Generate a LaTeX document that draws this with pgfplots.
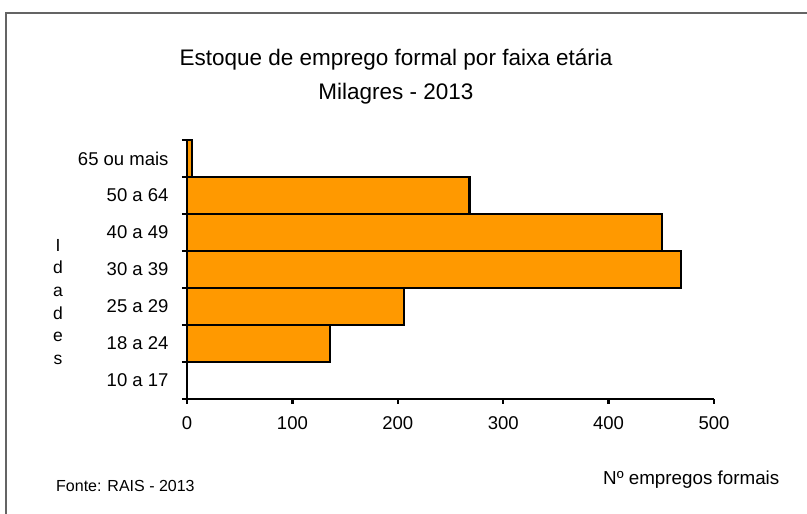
\documentclass[border=0pt]{standalone}
\usepackage{fontspec}
\setmainfont{Liberation Sans}
\usepackage{pgfplots}
\pgfplotsset{compat=1.18}
\definecolor{barorange}{RGB}{255,153,0}
\definecolor{framegray}{RGB}{100,100,100}
\begin{document}
\begin{tikzpicture}[x=1pt,y=1pt]
\useasboundingbox (0,0) rectangle (807,514);
% chart frame (top and left edges visible)
\draw[framegray,line width=1.5pt] (6,0) -- (6,501) -- (807,501);
% title
\node[anchor=base,font=\fontsize{22.5}{27}\selectfont] at (396,448) {Estoque de emprego formal por faixa etária};
\node[anchor=base,font=\fontsize{22.5}{27}\selectfont] at (396,414) {Milagres - 2013};
% vertical y label
\foreach \ch/\yy in {I/262.3,d/240.7,a/217.3,d/194,e/172.3,s/149}
  \node[anchor=base,font=\fontsize{17.5}{17.5}\selectfont] at (58,\yy) {\ch};
\node[anchor=base west,inner sep=0pt,font=\fontsize{16}{16}\selectfont] at (56,22.3) {Fonte: RAIS - 2013};
\node[anchor=base west,inner sep=0pt,font=\fontsize{18.8}{19}\selectfont] at (603,29) {Nº empregos formais};
\begin{axis}[
  at={(187pt,115pt)}, anchor=south west,
  scale only axis, width=527pt, height=259pt,
  xbar, bar width=1,
  xmin=0, xmax=500, ymin=-0.5, ymax=6.5,
  axis lines=left, axis line style={-, line width=2.5pt},
  xtick={0,100,...,500},
  ytick={0,...,6},
  yticklabels={10 a 17,18 a 24,25 a 29,30 a 39,40 a 49,50 a 64,65 ou mais},
  major y tick style={draw=none},
  minor ytick={-0.5,0.5,...,6.5},
  tick align=outside,
  major tick length=5pt, minor tick length=5pt,
  tick style={black, line width=2.5pt},
  /pgf/number format/assume math mode=true,
  ticklabel style={font=\fontsize{18.5}{18.5}\selectfont},
  yticklabel style={xshift=-10pt},
  xticklabel style={yshift=-9pt},
]
\addplot[draw=black, line width=2.2pt, fill=barorange] coordinates {
  (0,0) (136,1) (206,2) (469,3) (451,4) (268,5) (5,6)
};
\end{axis}
\end{tikzpicture}
\end{document}
